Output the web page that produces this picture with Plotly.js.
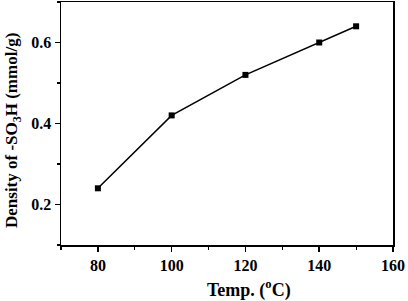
<!DOCTYPE html>
<html><head><meta charset="utf-8">
<script src="https://cdn.plot.ly/plotly-3.0.1.min.js"></script>
<style>html,body{margin:0;padding:0;background:#fff}#c{width:408px;height:301px}</style>
</head><body><div id="c"></div>
<script>
const temps = [80, 100, 120, 140, 150];
const density = [0.24, 0.42, 0.52, 0.60, 0.64];
const xTickVals = [80, 100, 120, 140, 160];
const xTickText = ['80', '100', '120', '140', '160'];
const yTickVals = [0.2, 0.4, 0.6];
const yTickText = ['0.2', '0.4', '0.6'];
const xTitle = 'Temp. (<sup>o</sup>C)';
const yTitle = 'Density of -SO<sub>3</sub>H (mmol/g)';

const fam = '"Liberation Serif", "Times New Roman", serif';
const W = 408, H = 301, L = 61, R = 15, T = 2, B = 56;
const axisBase = {
  showgrid: false, zeroline: false, showline: true, linecolor: '#000', linewidth: 1.5,
  mirror: true, ticks: 'outside', ticklen: 5, tickwidth: 1.5, tickcolor: '#000',
  tickfont: {family: fam, size: 16, color: '#000'},
};
const pw = W - L - R, ph = H - T - B;
Plotly.newPlot('c', [{
  x: temps, y: density, type: 'scatter', mode: 'lines+markers',
  line: {color: '#000', width: 1.5},
  marker: {symbol: 'square', size: 6, color: '#000'}
}], {
  width: W, height: H,
  margin: {l: L, r: R, t: T, b: B},
  paper_bgcolor: '#fff', plot_bgcolor: '#fff',
  font: {family: fam, size: 16, color: '#000'}, showlegend: false,
  xaxis: Object.assign({}, axisBase, {
    range: [70, 160], tickvals: xTickVals, ticktext: xTickText.map(t => '<b>' + t + '</b>'),
    minor: {dtick: 10, tick0: 70, ticks: 'outside', ticklen: 3, tickwidth: 1.2, tickcolor: '#000'}
  }),
  yaxis: Object.assign({}, axisBase, {
    range: [0.1, 0.7], tickvals: yTickVals, ticktext: yTickText.map(t => '<b>' + t + '</b>'),
    minor: {dtick: 0.1, tick0: 0.1, ticks: 'outside', ticklen: 3, tickwidth: 1.2, tickcolor: '#000'}
  }),
  annotations: [
    {text: '<b>' + xTitle + '</b>', xref: 'paper', yref: 'paper',
     x: (249 - L) / pw, y: (H - B - 289) / ph, xanchor: 'center', yanchor: 'middle',
     showarrow: false, font: {family: fam, size: 18, color: '#000'}},
    {text: '<b>' + yTitle + '</b>', xref: 'paper', yref: 'paper', textangle: -90,
     x: (13 - L) / pw, y: (H - B - 131) / ph, xanchor: 'center', yanchor: 'middle',
     showarrow: false, font: {family: fam, size: 17, color: '#000'}}
  ]
}, {staticPlot: true});
</script></body></html>
